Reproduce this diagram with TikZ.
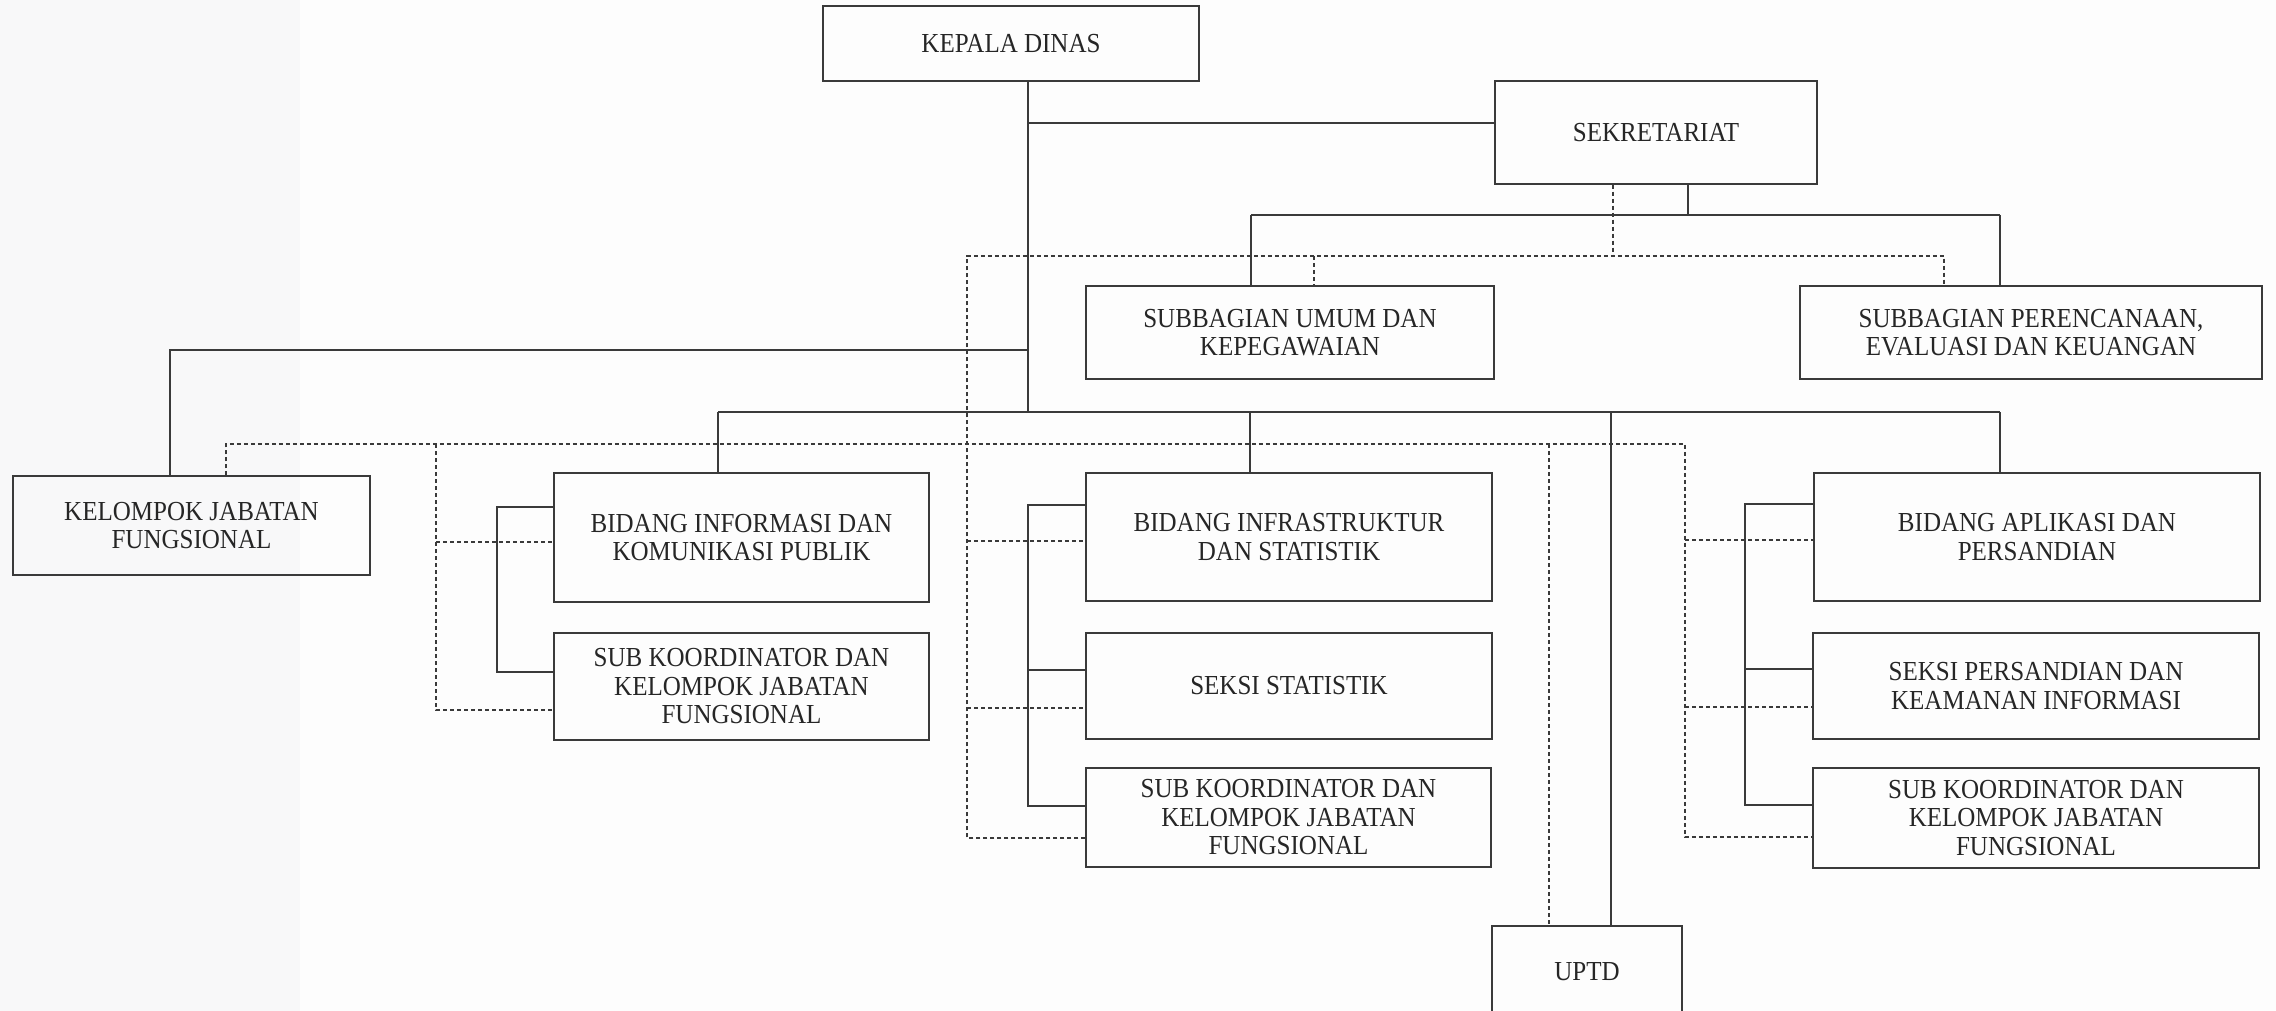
\documentclass[tikz,border=0pt]{standalone}
\usepackage{fontspec}
\setmainfont[FakeStretch=0.91]{Liberation Serif}
\definecolor{ln}{HTML}{3A3A3A}
\definecolor{bgc}{HTML}{FDFDFD}
\definecolor{strip}{HTML}{F8F8F9}
\begin{document}
\begin{tikzpicture}[x=1pt,y=-1pt,
  box/.style={draw=ln, line width=1.5pt, align=center, inner sep=0pt,
    font=\fontsize{27.5}{28.5}\selectfont, text=black!85},
  solidln/.style={draw=ln, line width=1.5pt},
  dotln/.style={draw=ln, line width=1.4pt, dash pattern=on 4pt off 3pt}]
\useasboundingbox (0,0) rectangle (2276,1011);
\clip (0,0) rectangle (2276,1011);
\fill[bgc] (0,0) rectangle (2276,1011);
\fill[strip] (0,0) rectangle (300,1011);

% nodes
\node[box, minimum width=376pt, minimum height=75pt] (kepala) at (1011,43.5) {KEPALA DINAS};
\node[box, minimum width=322pt, minimum height=103pt] (sek) at (1656,132.5) {SEKRETARIAT};
\node[box, minimum width=408pt, minimum height=93pt] (subumum) at (1290,332.5) {SUBBAGIAN UMUM DAN\\KEPEGAWAIAN};
\node[box, minimum width=462pt, minimum height=93pt] (subper) at (2031,332.5) {SUBBAGIAN PERENCANAAN,\\EVALUASI DAN KEUANGAN};
\node[box, minimum width=357pt, minimum height=99pt] (kjf) at (191.5,525.5) {KELOMPOK JABATAN\\FUNGSIONAL};
\node[box, minimum width=375pt, minimum height=129pt] (binfo) at (741.5,537.5) {BIDANG INFORMASI DAN\\KOMUNIKASI PUBLIK};
\node[box, minimum width=375pt, minimum height=107pt] (skl) at (741.5,686.5) {SUB KOORDINATOR DAN\\KELOMPOK JABATAN\\FUNGSIONAL};
\node[box, minimum width=406pt, minimum height=128pt] (binfra) at (1289,537) {BIDANG INFRASTRUKTUR\\DAN STATISTIK};
\node[box, minimum width=406pt, minimum height=106pt] (sstat) at (1289,686) {SEKSI STATISTIK};
\node[box, minimum width=405pt, minimum height=99pt] (skm) at (1288.5,817.5) {SUB KOORDINATOR DAN\\KELOMPOK JABATAN\\FUNGSIONAL};
\node[box, minimum width=446pt, minimum height=128pt] (bapl) at (2037,537) {BIDANG APLIKASI DAN\\PERSANDIAN};
\node[box, minimum width=446pt, minimum height=106pt] (spers) at (2036,686) {SEKSI PERSANDIAN DAN\\KEAMANAN INFORMASI};
\node[box, minimum width=446pt, minimum height=100pt] (skr) at (2036,818) {SUB KOORDINATOR DAN\\KELOMPOK JABATAN\\FUNGSIONAL};
\node[box, minimum width=190pt, minimum height=92pt] (uptd) at (1587,972) {UPTD};

% solid hierarchy
\coordinate (t1) at (1028,412);
\coordinate (j1) at (1028,123);
\coordinate (j2) at (1028,350);
\coordinate (k2) at (170,350);
\draw[solidln] (kepala.south -| t1) -- (t1);
\draw[solidln] (j1) -- (sek.west |- j1);
\draw[solidln] (j2) -- (k2) -- (kjf.north -| k2);

\coordinate (b1) at (718,412);
\coordinate (b2) at (2000,412);
\coordinate (b3) at (1250,412);
\coordinate (b4) at (1611,412);
\draw[solidln] (b1) -- (b2);
\draw[solidln] (b1) -- (binfo.north -| b1);
\draw[solidln] (b3) -- (binfra.north -| b3);
\draw[solidln] (b2) -- (bapl.north -| b2);
\draw[solidln] (b4) -- (uptd.north -| b4);

\coordinate (s1) at (1688,215);
\coordinate (s2) at (1251,215);
\coordinate (s3) at (2000,215);
\draw[solidln] (sek.south -| s1) -- (s1);
\draw[solidln] (s2) -- (s3);
\draw[solidln] (s2) -- (subumum.north -| s2);
\draw[solidln] (s3) -- (subper.north -| s3);

% brackets
\coordinate (l1) at (497,507);
\coordinate (l2) at (497,672);
\draw[solidln] (binfo.west |- l1) -- (l1) -- (l2) -- (skl.west |- l2);
\coordinate (m1) at (1028,505);
\coordinate (m2) at (1028,670);
\coordinate (m3) at (1028,806);
\draw[solidln] (binfra.west |- m1) -- (m1) -- (m3) -- (skm.west |- m3);
\draw[solidln] (m2) -- (sstat.west |- m2);
\coordinate (r1) at (1745,504);
\coordinate (r2) at (1745,669);
\coordinate (r3) at (1745,805);
\draw[solidln] (bapl.west |- r1) -- (r1) -- (r3) -- (skr.west |- r3);
\draw[solidln] (r2) -- (spers.west |- r2);

% dotted network from sekretariat
\coordinate (d1) at (1613,256);
\coordinate (d2) at (967,256);
\coordinate (d3) at (1944,256);
\coordinate (d4) at (1314,256);
\coordinate (d5) at (967,838);
\coordinate (d6) at (967,541);
\coordinate (d7) at (967,708);
\draw[dotln] (sek.south -| d1) -- (d1);
\draw[dotln] (skm.west |- d5) -- (d5) -- (d2) -- (d3) -- (subper.north -| d3);
\draw[dotln] (d4) -- (subumum.north -| d4);
\draw[dotln] (d6) -- (binfra.west |- d6);
\draw[dotln] (d7) -- (sstat.west |- d7);

% second dotted network
\coordinate (e1) at (226,444);
\coordinate (e2) at (1685,444);
\coordinate (e3) at (1685,837);
\coordinate (e4) at (436,444);
\coordinate (e5) at (436,710);
\coordinate (e6) at (436,542);
\coordinate (e7) at (1549,444);
\coordinate (e8) at (1685,540);
\coordinate (e9) at (1685,707);
\draw[dotln] (kjf.north -| e1) -- (e1) -- (e2) -- (e3) -- (skr.west |- e3);
\draw[dotln] (e4) -- (e5) -- (skl.west |- e5);
\draw[dotln] (e6) -- (binfo.west |- e6);
\draw[dotln] (e7) -- (uptd.north -| e7);
\draw[dotln] (e8) -- (bapl.west |- e8);
\draw[dotln] (e9) -- (spers.west |- e9);
\end{tikzpicture}
\end{document}
